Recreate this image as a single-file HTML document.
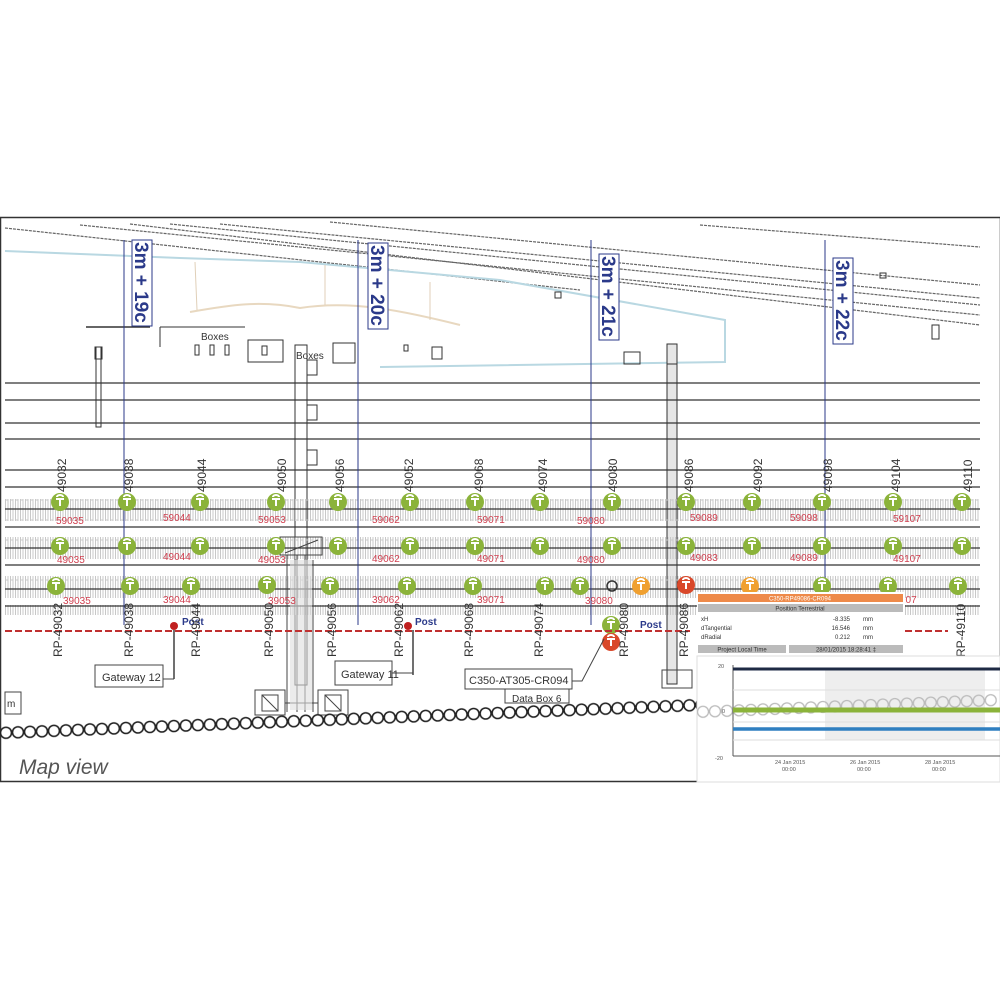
<!DOCTYPE html>
<html><head><meta charset="utf-8"><style>
html,body{margin:0;padding:0;background:#fff;width:1000px;height:1000px;overflow:hidden}
svg{display:block;font-family:"Liberation Sans",sans-serif}
</style></head><body>
<svg width="1000" height="1000" viewBox="0 0 1000 1000" xmlns="http://www.w3.org/2000/svg">
<defs>
<pattern id="sl" width="5" height="20" patternUnits="userSpaceOnUse"><rect x="0.5" y="0" width="2.5" height="20" fill="none" stroke="#c8c8c8" stroke-width="1"/></pattern>
<pattern id="ch" x="0" y="-8" width="12" height="16" patternUnits="userSpaceOnUse"><circle cx="6" cy="8" r="5.5" fill="#fff" stroke="#222" stroke-width="1.6"/></pattern>
<pattern id="ch2" x="0" y="-8" width="12" height="16" patternUnits="userSpaceOnUse"><circle cx="6" cy="8" r="5.5" fill="none" stroke="#bbb" stroke-width="1.3"/></pattern>
<g id="mk"><path d="M-4,-3 h8 M0,-3 v7 M-3,-5 a3,2 0 0 1 6,0" stroke="#fff" stroke-width="2" fill="none"/></g>
</defs>
<rect x="0.5" y="217.5" width="1000" height="564" fill="#fff" stroke="#333" stroke-width="1.5"/>
<g stroke="#666" stroke-width="1.2" fill="none" stroke-dasharray="3 1">
<line x1="5" y1="228" x2="580" y2="290"/>
<line x1="80" y1="225" x2="980" y2="315"/>
<line x1="130" y1="224" x2="980" y2="325"/>
<line x1="170" y1="224" x2="980" y2="305"/>
<line x1="220" y1="224" x2="980" y2="298"/>
<line x1="330" y1="222" x2="980" y2="285"/>
<line x1="700" y1="225" x2="980" y2="247"/>
</g>
<polyline points="5,251 180,258 300,262 500,280 725,320 725,362 380,367" fill="none" stroke="#b9d8e2" stroke-width="2"/>
<path d="M190,312 C230,305 260,300 300,308 C350,300 400,310 460,325" stroke="#e8d8c0" stroke-width="2" fill="none"/>
<g stroke="#e0cfb8" stroke-width="1"><line x1="195" y1="262" x2="197" y2="310"/><line x1="325" y1="265" x2="325" y2="305"/><line x1="430" y1="282" x2="430" y2="320"/></g>
<g fill="none" stroke="#333" stroke-width="1">
<path d="M160,327 v20 M160,327 h85"/>
<rect x="195" y="345" width="4" height="10"/><rect x="210" y="345" width="4" height="10"/><rect x="225" y="345" width="4" height="10"/>
<rect x="248" y="340" width="35" height="22"/><rect x="262" y="346" width="5" height="9"/>
<rect x="333" y="343" width="22" height="20"/>
<rect x="295" y="345" width="12" height="340" /><path d="M307,345 v15 h10 v15 h-10 v30 h10 v15 h-10 v30 h10 v15 h-10 v12"/>
<rect x="96" y="347" width="5" height="80"/><rect x="95" y="347" width="7" height="12"/>
<rect x="432" y="347" width="10" height="12"/><rect x="404" y="345" width="4" height="6"/>
<rect x="624" y="352" width="16" height="12"/>
<rect x="667" y="344" width="10" height="340" fill="#e6e6e6"/><rect x="667" y="344" width="10" height="20"/>
<rect x="932" y="325" width="7" height="14"/><rect x="555" y="292" width="6" height="6"/><rect x="880" y="273" width="6" height="5"/>
<line x1="86" y1="327" x2="150" y2="327" stroke-width="1.5"/>
</g>
<text x="201" y="340" font-size="10" fill="#333">Boxes</text>
<text x="296" y="359" font-size="10" fill="#333">Boxes</text>
<g stroke="#333" stroke-width="1.3">
<line x1="5" y1="383" x2="980" y2="383"/><line x1="5" y1="400" x2="980" y2="400"/>
<line x1="5" y1="423" x2="980" y2="423"/><line x1="5" y1="439" x2="980" y2="439"/>
<line x1="5" y1="470" x2="980" y2="470"/><line x1="5" y1="487" x2="980" y2="487"/>
</g>
<rect x="5" y="499" width="975" height="22" fill="url(#sl)"/>
<rect x="5" y="537" width="975" height="22" fill="url(#sl)"/>
<rect x="5" y="576" width="975" height="22" fill="url(#sl)"/>
<rect x="5" y="605" width="975" height="10" fill="url(#sl)"/>
<g stroke="#333" stroke-width="1.3">
<line x1="5" y1="509" x2="980" y2="509"/><line x1="5" y1="527" x2="980" y2="527"/>
<line x1="5" y1="548" x2="980" y2="548"/><line x1="5" y1="565" x2="980" y2="565"/>
<line x1="5" y1="589" x2="980" y2="589"/><line x1="5" y1="606" x2="980" y2="606"/>
</g>
<g stroke="#444" fill="none" stroke-width="1">
<rect x="280" y="537" width="42" height="18"/><line x1="285" y1="553" x2="318" y2="540"/>
<line x1="287" y1="555" x2="287" y2="712"/><line x1="297" y1="555" x2="297" y2="712"/><line x1="305" y1="555" x2="305" y2="712"/><line x1="313" y1="560" x2="313" y2="712"/>
<rect x="255" y="690" width="30" height="25"/><rect x="262" y="695" width="16" height="16"/><line x1="262" y1="695" x2="278" y2="711"/>
<rect x="318" y="690" width="30" height="25"/><rect x="325" y="695" width="16" height="16"/><line x1="325" y1="695" x2="341" y2="711"/>
<line x1="285" y1="703" x2="318" y2="703"/>
<rect x="662" y="670" width="30" height="18"/>
</g>
<rect x="290" y="560" width="22" height="150" fill="#ddd" opacity="0.6"/>
<g stroke="#2b3a8a" stroke-width="1"><line x1="124" y1="240" x2="124" y2="625"/><line x1="358" y1="240" x2="358" y2="625"/><line x1="591" y1="240" x2="591" y2="625"/><line x1="825" y1="240" x2="825" y2="625"/></g>
<g fill="#fff" stroke="#2b3a8a" stroke-width="1">
<rect x="132" y="240" width="20" height="86"/><rect x="368" y="243" width="20" height="86"/><rect x="599" y="254" width="20" height="86"/><rect x="833" y="258" width="20" height="86"/></g>
<g font-size="19" fill="#2b3a8a" font-weight="bold">
<text transform="translate(135,242) rotate(90)">3m + 19c</text>
<text transform="translate(371,245) rotate(90)">3m + 20c</text>
<text transform="translate(602,256) rotate(90)">3m + 21c</text>
<text transform="translate(836,260) rotate(90)">3m + 22c</text>
</g>
<g font-size="12" fill="#333">
<text transform="translate(66,492) rotate(-90)">49032</text><text transform="translate(133,492) rotate(-90)">49038</text>
<text transform="translate(206,492) rotate(-90)">49044</text><text transform="translate(286,492) rotate(-90)">49050</text>
<text transform="translate(344,492) rotate(-90)">49056</text><text transform="translate(413,492) rotate(-90)">49052</text>
<text transform="translate(483,492) rotate(-90)">49068</text><text transform="translate(547,492) rotate(-90)">49074</text>
<text transform="translate(617,492) rotate(-90)">49080</text><text transform="translate(693,492) rotate(-90)">49086</text>
<text transform="translate(762,492) rotate(-90)">49092</text><text transform="translate(832,492) rotate(-90)">49098</text>
<text transform="translate(900,492) rotate(-90)">49104</text><text transform="translate(972,492) rotate(-90)">49110</text>
</g>
<g font-size="10" fill="#d04050">
<text x="56" y="524">59035</text><text x="163" y="521">59044</text><text x="258" y="523">59053</text><text x="372" y="523">59062</text><text x="477" y="523">59071</text><text x="577" y="524">59080</text><text x="690" y="521">59089</text><text x="790" y="521">59098</text><text x="893" y="522">59107</text>
<text x="57" y="563">49035</text><text x="163" y="560">49044</text><text x="258" y="563">49053</text><text x="372" y="562">49062</text><text x="477" y="562">49071</text><text x="577" y="563">49080</text><text x="690" y="561">49083</text><text x="790" y="561">49089</text><text x="893" y="562">49107</text>
<text x="63" y="604">39035</text><text x="163" y="603">39044</text><text x="268" y="604">39053</text><text x="372" y="603">39062</text><text x="477" y="603">39071</text><text x="585" y="604">39080</text><text x="900" y="603">107</text>
</g>
<g fill="#8bb33a">
<circle cx="60" cy="502" r="9"/><circle cx="127" cy="502" r="9"/><circle cx="200" cy="502" r="9"/><circle cx="276" cy="502" r="9"/><circle cx="338" cy="502" r="9"/><circle cx="410" cy="502" r="9"/><circle cx="475" cy="502" r="9"/><circle cx="540" cy="502" r="9"/><circle cx="612" cy="502" r="9"/><circle cx="686" cy="502" r="9"/><circle cx="752" cy="502" r="9"/><circle cx="822" cy="502" r="9"/><circle cx="893" cy="502" r="9"/><circle cx="962" cy="502" r="9"/>
<circle cx="60" cy="546" r="9"/><circle cx="127" cy="546" r="9"/><circle cx="200" cy="546" r="9"/><circle cx="276" cy="546" r="9"/><circle cx="338" cy="546" r="9"/><circle cx="410" cy="546" r="9"/><circle cx="475" cy="546" r="9"/><circle cx="540" cy="546" r="9"/><circle cx="612" cy="546" r="9"/><circle cx="686" cy="546" r="9"/><circle cx="752" cy="546" r="9"/><circle cx="822" cy="546" r="9"/><circle cx="893" cy="546" r="9"/><circle cx="962" cy="546" r="9"/>
<circle cx="56" cy="586" r="9"/><circle cx="130" cy="586" r="9"/><circle cx="191" cy="586" r="9"/><circle cx="267" cy="585" r="9"/><circle cx="330" cy="586" r="9"/><circle cx="407" cy="586" r="9"/><circle cx="473" cy="586" r="9"/><circle cx="545" cy="586" r="9"/><circle cx="580" cy="586" r="9"/><circle cx="822" cy="586" r="9"/><circle cx="888" cy="586" r="9"/><circle cx="958" cy="586" r="9"/>
<circle cx="611" cy="625" r="9"/>
</g>
<circle cx="641" cy="586" r="9" fill="#f0a030"/><circle cx="750" cy="586" r="9" fill="#f0a030"/>
<circle cx="686" cy="585" r="9" fill="#d9482a"/><circle cx="611" cy="642" r="9" fill="#d9482a"/>
<circle cx="612" cy="586" r="5" fill="none" stroke="#333" stroke-width="1.5"/>
<g>
<use href="#mk" x="60" y="502"/><use href="#mk" x="127" y="502"/><use href="#mk" x="200" y="502"/><use href="#mk" x="276" y="502"/><use href="#mk" x="338" y="502"/><use href="#mk" x="410" y="502"/><use href="#mk" x="475" y="502"/><use href="#mk" x="540" y="502"/><use href="#mk" x="612" y="502"/><use href="#mk" x="686" y="502"/><use href="#mk" x="752" y="502"/><use href="#mk" x="822" y="502"/><use href="#mk" x="893" y="502"/><use href="#mk" x="962" y="502"/>
<use href="#mk" x="60" y="546"/><use href="#mk" x="127" y="546"/><use href="#mk" x="200" y="546"/><use href="#mk" x="276" y="546"/><use href="#mk" x="338" y="546"/><use href="#mk" x="410" y="546"/><use href="#mk" x="475" y="546"/><use href="#mk" x="540" y="546"/><use href="#mk" x="612" y="546"/><use href="#mk" x="686" y="546"/><use href="#mk" x="752" y="546"/><use href="#mk" x="822" y="546"/><use href="#mk" x="893" y="546"/><use href="#mk" x="962" y="546"/>
<use href="#mk" x="56" y="586"/><use href="#mk" x="130" y="586"/><use href="#mk" x="191" y="586"/><use href="#mk" x="267" y="585"/><use href="#mk" x="330" y="586"/><use href="#mk" x="407" y="586"/><use href="#mk" x="473" y="586"/><use href="#mk" x="545" y="586"/><use href="#mk" x="580" y="586"/><use href="#mk" x="641" y="586"/><use href="#mk" x="686" y="585"/><use href="#mk" x="750" y="586"/><use href="#mk" x="822" y="586"/><use href="#mk" x="888" y="586"/><use href="#mk" x="958" y="586"/><use href="#mk" x="611" y="625"/><use href="#mk" x="611" y="642"/>
</g>
<line x1="5" y1="631" x2="690" y2="631" stroke="#c03030" stroke-width="2" stroke-dasharray="7 3"/>
<line x1="905" y1="631" x2="948" y2="631" stroke="#c03030" stroke-width="2" stroke-dasharray="7 3"/>
<circle cx="174" cy="626" r="4" fill="#c02020"/><line x1="174" y1="630" x2="174" y2="679" stroke="#111" stroke-width="1.2"/>
<circle cx="408" cy="626" r="4" fill="#c02020"/><line x1="413" y1="630" x2="413" y2="675" stroke="#111" stroke-width="1.2"/>
<text x="182" y="625" font-size="10" fill="#2b3a8a" font-weight="bold">Post</text>
<text x="415" y="625" font-size="10" fill="#2b3a8a" font-weight="bold">Post</text>
<text x="640" y="628" font-size="10" fill="#2b3a8a" font-weight="bold">Post</text>
<g font-size="12" fill="#333">
<text transform="translate(62,657) rotate(-90)">RP-49032</text><text transform="translate(133,657) rotate(-90)">RP-49038</text>
<text transform="translate(200,657) rotate(-90)">RP-49044</text><text transform="translate(273,657) rotate(-90)">RP-49050</text>
<text transform="translate(336,657) rotate(-90)">RP-49056</text><text transform="translate(403,657) rotate(-90)">RP-49062</text>
<text transform="translate(473,657) rotate(-90)">RP-49068</text><text transform="translate(543,657) rotate(-90)">RP-49074</text>
<text transform="translate(628,657) rotate(-90)">RP-49080</text><text transform="translate(688,657) rotate(-90)">RP-49086</text>
<text transform="translate(965,657) rotate(-90)">RP-49110</text>
</g>
<g fill="#fff" stroke="#444" stroke-width="1">
<rect x="95" y="665" width="68" height="22"/><path d="M163,679 h11" fill="none"/>
<rect x="335" y="661" width="57" height="24"/><path d="M392,673 h21" fill="none"/>
<rect x="465" y="669" width="107" height="20"/><path d="M572,681 h10 l22,-42" fill="none"/>
<rect x="505" y="689" width="64" height="14"/>
<rect x="5" y="692" width="16" height="22"/>
</g>
<text x="102" y="681" font-size="11" fill="#333">Gateway 12</text>
<text x="341" y="678" font-size="11" fill="#333">Gateway 11</text>
<text x="469" y="684" font-size="11" fill="#333">C350-AT305-CR094</text>
<text x="512" y="702" font-size="10" fill="#333">Data Box 6</text>
<text x="7" y="707" font-size="10" fill="#333">m</text>
<g transform="translate(0,733) rotate(-2.3)"><rect x="0" y="-8" width="700" height="16" fill="url(#ch)"/></g>
<text x="19" y="774" font-size="21" font-style="italic" fill="#555">Map view</text>
<rect x="697" y="592" width="208" height="63" fill="#fff"/>
<rect x="698" y="594" width="205" height="8" fill="#ee8a4a"/>
<text x="800" y="600.5" font-size="6" text-anchor="middle" fill="#fff">C350-RP49086-CR094</text>
<rect x="698" y="604" width="205" height="8" fill="#bbb"/>
<text x="800" y="610.5" font-size="6" text-anchor="middle" fill="#333">Position Terrestrial</text>
<g font-size="6" fill="#333"><text x="701" y="621">xH</text><text x="701" y="630">dTangential</text><text x="701" y="639">dRadial</text>
<text x="850" y="621" text-anchor="end">-8.335</text><text x="850" y="630" text-anchor="end">16.546</text><text x="850" y="639" text-anchor="end">0.212</text>
<text x="863" y="621">mm</text><text x="863" y="630">mm</text><text x="863" y="639">mm</text></g>
<rect x="698" y="645" width="88" height="8" fill="#bbb"/><rect x="789" y="645" width="114" height="8" fill="#bbb"/>
<text x="742" y="651.5" font-size="6" text-anchor="middle" fill="#333">Project Local Time</text>
<text x="846" y="651.5" font-size="6" text-anchor="middle" fill="#333">28/01/2015 18:28:41 ‡</text>
<rect x="697" y="656" width="303" height="126" fill="#fff" stroke="#ddd"/>
<rect x="825" y="670" width="160" height="70" fill="#eee"/>
<g transform="translate(697,712) rotate(-2.3)"><rect x="0" y="-8" width="300" height="16" fill="url(#ch2)"/></g>
<line x1="733" y1="665" x2="733" y2="756" stroke="#555"/><line x1="733" y1="756" x2="1000" y2="756" stroke="#555"/>
<g stroke="#ddd"><line x1="733" y1="690" x2="1000" y2="690"/><line x1="733" y1="722" x2="1000" y2="722"/><line x1="733" y1="740" x2="1000" y2="740"/></g>
<line x1="733" y1="669" x2="1000" y2="669" stroke="#1e2a44" stroke-width="3"/>
<line x1="733" y1="710" x2="1000" y2="710" stroke="#8bb33a" stroke-width="5"/>
<line x1="733" y1="729" x2="1000" y2="729" stroke="#2f7fc0" stroke-width="3.5"/>
<g font-size="5.5" fill="#555"><text x="718" y="668">20</text><text x="722" y="713">0</text><text x="715" y="760">-20</text>
<text x="775" y="764">24 Jan 2015</text><text x="782" y="771">00:00</text><text x="850" y="764">26 Jan 2015</text><text x="857" y="771">00:00</text><text x="925" y="764">28 Jan 2015</text><text x="932" y="771">00:00</text></g>
</svg>
</body></html>
